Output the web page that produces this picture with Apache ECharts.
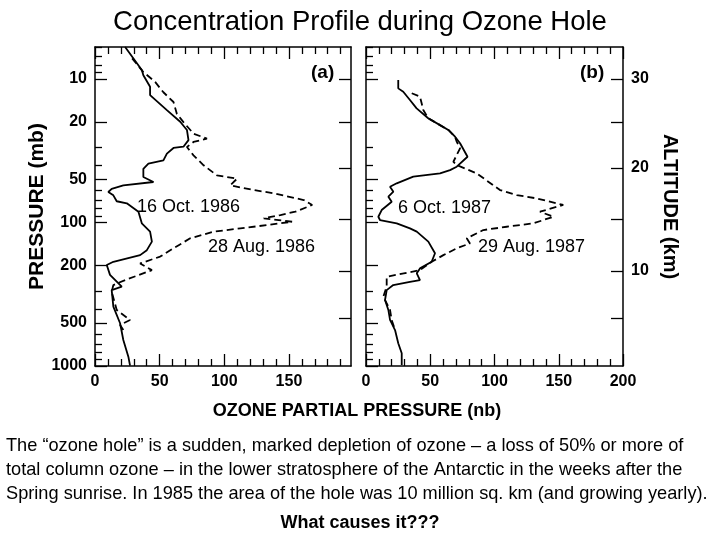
<!DOCTYPE html>
<html>
<head>
<meta charset="utf-8">
<script src="https://cdn.jsdelivr.net/npm/echarts@6/dist/echarts.min.js"></script>
<style>
html,body{margin:0;padding:0;background:#fff;}
#chart{width:720px;height:540px;}
</style>
</head>
<body>
<div id="chart"></div>
<script>
// ---------- data (ozone partial pressure in nb, pressure in mb) ----------
const oct1986Ozone    = [23.3, 36.2, 37.4, 42.6, 42.6, 55.6, 65.9, 71.1, 72.3, 68.4, 60.7, 55.6, 52.9, 41.3, 37.4, 37.4, 45.2, 21.9, 12.9, 10.3, 14.2, 16.8, 24.6, 33.6, 34.9, 36.2, 42.6, 44.0, 40.1, 34.9, 14.2, 9.1, 11.6, 20.7, 12.9, 14.2, 19.4, 21.9, 25.8, 27.1];
const oct1986Pressure = [6.0, 8.68, 9.45, 11.35, 12.97, 16.5, 19.9, 22.7, 26.7, 29.7, 30.3, 33.2, 37.0, 39.0, 42.3, 48.3, 52.3, 55.2, 58.3, 61.4, 64.8, 71.2, 73.6, 84.2, 86.4, 101.5, 116, 136, 156, 169, 188, 198, 232, 280, 296, 386, 504, 659, 861, 995];

const aug1986Ozone    = [28.7, 37.4, 46.5, 52.9, 60.7, 63.3, 68.4, 76.2, 86.6, 76.2, 71.1, 76.2, 84.0, 94.3, 109.8, 104.7, 122.7, 138.2, 161.5, 168.0, 155.0, 143.4, 130.5, 152.5, 133.1, 112.4, 91.7, 73.6, 60.7, 50.4, 34.9, 44.0, 23.3, 14.2, 12.9, 16.8, 27.1, 19.4, 21.9];
const aug1986Pressure = [7.2, 8.97, 10.5, 12.4, 14.5, 17.5, 20.0, 24.1, 26.1, 27.5, 29.8, 34.1, 40.0, 47.0, 49.6, 55.2, 59.5, 62.7, 69.8, 75.6, 84.2, 88.8, 93.6, 98.9, 104.3, 110, 116, 129, 151.5, 173, 193, 215, 252, 273, 304, 407, 478, 518, 562];

const oct1987Ozone    = [25.1, 25.1, 29.0, 34.2, 39.4, 48.4, 57.6, 64.1, 69.3, 73.2, 79.0, 70.6, 65.4, 57.6, 36.8, 23.9, 18.7, 21.3, 17.4, 20.0, 12.2, 9.6, 10.9, 23.9, 34.2, 39.5, 48.5, 53.7, 51.1, 42.0, 39.5, 42.0, 34.2, 21.2, 16.1, 14.8, 17.4, 18.7, 22.6, 25.1, 27.8, 27.8];
const oct1987Pressure = [10.2, 11.65, 12.3, 14.05, 16.05, 18.8, 21.0, 22.7, 25.3, 28.1, 34.9, 40.9, 43.2, 45.5, 48.0, 53.4, 56.4, 61.1, 66.2, 71.8, 82.0, 91.3, 96.2, 101.5, 110, 116, 136, 164, 188, 209, 226, 252, 259, 273, 296, 347, 407, 478, 562, 695, 816, 984];

const aug1987Ozone    = [35.6, 42.0, 43.3, 44.6, 48.4, 57.6, 64.1, 69.3, 70.6, 73.2, 70.6, 68.0, 70.6, 86.1, 104.3, 117.3, 132.8, 153.5, 135.4, 145.8, 130.2, 109.5, 91.3, 78.4, 80.9, 70.6, 60.2, 51.1, 42.0, 16.1, 16.1, 13.5, 18.7, 20.0, 22.6];
const aug1987Pressure = [12.6, 13.3, 14.8, 16.5, 18.8, 21.0, 22.7, 25.3, 27.4, 30.5, 33.9, 37.8, 39.8, 45.5, 59.5, 64.5, 68.0, 75.6, 84.2, 91.3, 101.5, 107.2, 113, 129, 140, 151.5, 169, 188, 215, 239, 280, 329, 407, 478, 562];

// ---------- ticks ----------
const pressureMajorTicks = [10, 20, 50, 100, 200, 500, 1000];
const pressureMinorTicks = [6, 7, 8, 9, 30, 40, 60, 70, 80, 90, 300, 400, 600, 700, 800, 900];
const pressureTickLabels = [10, 20, 50, 100, 200, 500, 1000];
const altitudeKm       = [30, 25, 20, 15, 10, 5];
const altitudePressure = [10, 20, 41.8, 94.7, 218, 463];
const altitudeLabelKm  = [30, 20, 10];
const ozoneMajorTicks = [0, 50, 100, 150, 200];
const ozoneMinorTicks = [10, 20, 30, 40, 60, 70, 80, 90, 110, 120, 130, 140, 160, 170, 180, 190];
const panelATickLabels = [0, 50, 100, 150];
const panelBTickLabels = [0, 50, 100, 150, 200];

const title = 'Concentration Profile during Ozone Hole';
const paragraph = [
  'The \u201cozone hole\u201d is a sudden, marked depletion of ozone \u2013 a loss of 50% or more of',
  'total column ozone \u2013 in the lower stratosphere of the Antarctic in the weeks after the',
  'Spring sunrise. In 1985 the area of the hole was 10 million sq. km (and growing yearly).'
];
const question = 'What causes it???';

// ---------- chart ----------
const FONT = '"Liberation Sans", Arial, Helvetica, sans-serif';
const BLACK = '#000';
const frame = {show: true, onZero: false, lineStyle: {color: BLACK, width: 1.5}};
const noLine = {show: false, onZero: false};
const tickStyle = {color: BLACK, width: 1.3};

function zip(xs, ys) { return xs.map((x, i) => [x, ys[i]]); }

function makeXAxes(g, max, labels) {
  const base = {gridIndex: g, type: 'value', min: 0, max: max, splitLine: {show: false}};
  return [
    Object.assign({}, base, {position: 'bottom', axisLine: frame,
      axisTick: {inside: true, length: 12, customValues: ozoneMajorTicks, lineStyle: tickStyle},
      axisLabel: {customValues: labels, color: BLACK, fontFamily: FONT, fontSize: 16, fontWeight: 'bold', margin: 8}}),
    Object.assign({}, base, {position: 'bottom', axisLine: noLine,
      axisTick: {inside: true, length: 7, customValues: ozoneMinorTicks, lineStyle: tickStyle},
      axisLabel: {show: false}}),
    Object.assign({}, base, {position: 'top', axisLine: frame,
      axisTick: {inside: true, length: 12, customValues: ozoneMajorTicks, lineStyle: tickStyle},
      axisLabel: {show: false}}),
    Object.assign({}, base, {position: 'top', axisLine: noLine,
      axisTick: {inside: true, length: 7, customValues: ozoneMinorTicks, lineStyle: tickStyle},
      axisLabel: {show: false}})
  ];
}

const altitudeLabelPressure = altitudePressure.filter((p, i) => altitudeLabelKm.indexOf(altitudeKm[i]) >= 0);
function altitudeFormatter(v) {
  const i = altitudePressure.findIndex(p => Math.abs(p - v) / p < 1e-3);
  return i >= 0 ? String(altitudeKm[i]) : '';
}

function makeYAxes(g) {
  const base = {gridIndex: g, type: 'log', logBase: 10, min: 6, max: 1000, inverse: true, splitLine: {show: false}};
  const nameStyle = {color: BLACK, fontFamily: FONT, fontSize: 21, fontWeight: 'bold'};
  return [
    Object.assign({}, base, {position: 'left', axisLine: frame,
      name: g === 0 ? 'PRESSURE (mb)' : '', nameLocation: 'middle', nameGap: 44, nameRotate: 90, nameTextStyle: nameStyle,
      axisTick: {inside: true, length: 12, customValues: pressureMajorTicks, lineStyle: tickStyle},
      axisLabel: {show: g === 0, customValues: pressureTickLabels, formatter: v => String(Math.round(v)),
        color: BLACK, fontFamily: FONT, fontSize: 16, fontWeight: 'bold', margin: 8}}),
    Object.assign({}, base, {position: 'left', axisLine: noLine,
      axisTick: {inside: true, length: 7, customValues: pressureMinorTicks, lineStyle: tickStyle},
      axisLabel: {show: false}}),
    Object.assign({}, base, {position: 'right', axisLine: frame,
      name: g === 1 ? 'ALTITUDE (km)' : '', nameLocation: 'middle', nameGap: 37, nameRotate: -90,
      nameTextStyle: Object.assign({}, nameStyle, {fontSize: 20}),
      axisTick: {inside: true, length: 12, customValues: altitudePressure, lineStyle: tickStyle},
      axisLabel: {show: g === 1, customValues: altitudeLabelPressure, formatter: altitudeFormatter,
        color: BLACK, fontFamily: FONT, fontSize: 16, fontWeight: 'bold', margin: 8}})
  ];
}

const solid = {color: BLACK, width: 1.8, type: 'solid'};
const dashed = {color: BLACK, width: 1.8, type: [7, 4]};
function profile(name, xi, yi, xs, ys, style) {
  return {name: name, type: 'line', xAxisIndex: xi, yAxisIndex: yi, data: zip(xs, ys),
    symbol: 'none', showSymbol: false, lineStyle: style, itemStyle: {color: BLACK}, z: 3};
}

function txt(x, y, text, size, weight, align) {
  return {type: 'text', x: x, y: y, silent: true,
    style: {text: text, fill: BLACK, fontFamily: FONT, fontSize: size, fontWeight: weight || 'normal',
      align: align || 'left', verticalAlign: 'middle'}};
}

const option = {
  animation: false,
  backgroundColor: '#fff',
  title: {text: title, left: 'center', top: 3,
    textStyle: {fontSize: 27.5, fontWeight: 'normal', fontFamily: FONT, color: BLACK}},
  grid: [
    {left: 95, top: 47, width: 256, height: 319},
    {left: 366, top: 47, width: 257, height: 319}
  ],
  xAxis: makeXAxes(0, 198, panelATickLabels).concat(makeXAxes(1, 200, panelBTickLabels)),
  yAxis: makeYAxes(0).concat(makeYAxes(1)),
  series: [
    profile('16 Oct. 1986', 0, 0, oct1986Ozone, oct1986Pressure, solid),
    profile('28 Aug. 1986', 0, 0, aug1986Ozone, aug1986Pressure, dashed),
    profile('6 Oct. 1987', 4, 3, oct1987Ozone, oct1987Pressure, solid),
    profile('29 Aug. 1987', 4, 3, aug1987Ozone, aug1987Pressure, dashed)
  ],
  graphic: [
    txt(311, 73, '(a)', 19, 'bold'),
    txt(580, 73, '(b)', 19, 'bold'),
    txt(137, 207, '16 Oct. 1986', 18),
    txt(208, 247, '28 Aug. 1986', 18),
    txt(398, 208, '6 Oct. 1987', 18),
    txt(478, 247, '29 Aug. 1987', 18),
    txt(357, 411, 'OZONE PARTIAL PRESSURE (nb)', 18, 'bold', 'center'),
    txt(6, 446, paragraph[0], 18.2),
    txt(6, 470, paragraph[1], 18.2),
    txt(6, 494, paragraph[2], 18.2),
    txt(360, 523, question, 18, 'bold', 'center')
  ]
};

const chart = echarts.init(document.getElementById('chart'), null, {renderer: 'canvas'});
chart.setOption(option);
</script>
</body>
</html>
